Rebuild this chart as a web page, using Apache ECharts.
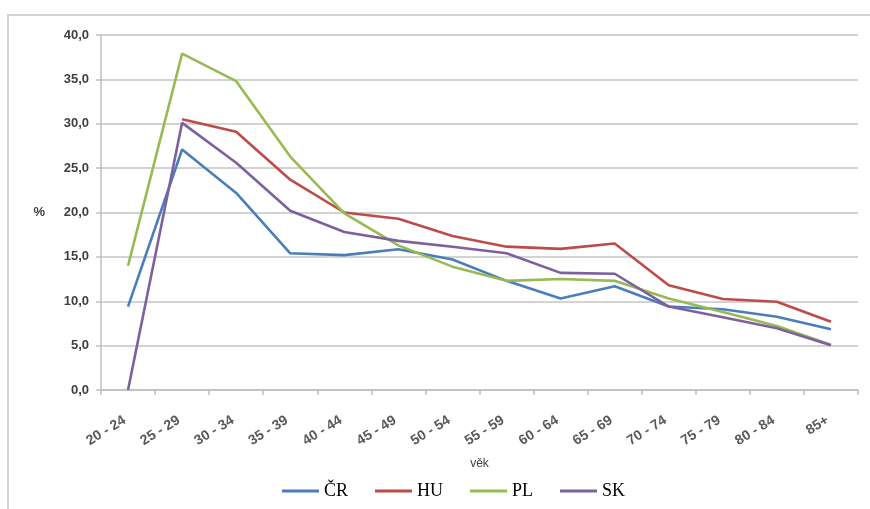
<!DOCTYPE html>
<html>
<head>
<meta charset="utf-8">
<script src="https://cdn.jsdelivr.net/npm/echarts@6/dist/echarts.min.js"></script>
<style>
    html, body { margin: 0; padding: 0; background: #fff; }
    #frame {
        position: absolute; left: 7px; top: 14px; width: 880px; height: 520px;
        border-top: 2px solid #d4d4d4; border-left: 2px solid #d4d4d4;
    }
    #main { position: absolute; left: 0; top: 0; width: 870px; height: 509px; }
</style>
</head>
<body>
<div id="frame"></div>
<div id="main"></div>
<script>
const chart = echarts.init(document.getElementById("main"));

// věkové skupiny
const ages = ["20 - 24", "25 - 29", "30 - 34", "35 - 39", "40 - 44", "45 - 49", "50 - 54",
    "55 - 59", "60 - 64", "65 - 69", "70 - 74", "75 - 79", "80 - 84", "85+"];

const cr = [9.4, 27.1, 22.2, 15.4, 15.2, 15.85, 14.7, 12.3, 10.3, 11.7, 9.4, 9.1, 8.25, 6.85];
const hu = [null, 30.5, 29.1, 23.7, 20.0, 19.3, 17.35, 16.15, 15.9, 16.5, 11.8, 10.25, 9.95, 7.7];
const pl = [14.0, 37.9, 34.8, 26.3, 19.9, 16.3, 13.9, 12.3, 12.5, 12.3, 10.3, 8.8, 7.2, 5.1];
const sk = [0.0, 30.1, 25.6, 20.2, 17.8, 16.8, 16.15, 15.4, 13.2, 13.1, 9.4, 8.2, 6.95, 5.05];

const yTicks = [0, 5, 10, 15, 20, 25, 30, 35, 40];

function line(name, data, color) {
    return {
        name: name,
        type: 'line',
        data: data,
        symbol: 'none',
        lineStyle: { color: color, width: 2.6 },
        itemStyle: { color: color }
    };
}

let option = {
    animation: false,
    grid: { left: 101, right: 12, top: 35, bottom: 119 },
    legend: {
        bottom: 4,
        left: 277,
        itemWidth: 37,
        itemHeight: 3,
        itemGap: 27,
        icon: 'rect',
        textStyle: { fontFamily: 'Liberation Serif', fontSize: 18, color: '#000' },
        data: ['ČR', 'HU', 'PL', 'SK']
    },
    xAxis: {
        type: 'category',
        data: ages,
        boundaryGap: true,
        name: 'věk',
        nameLocation: 'middle',
        nameGap: 68,
        nameTextStyle: { fontFamily: 'Liberation Sans', fontSize: 12, color: '#404040' },
        axisLine: { lineStyle: { color: '#bfbfbf', width: 1.5 } },
        axisTick: { show: true, interval: 0, length: 5, lineStyle: { color: '#bfbfbf', width: 1.5 } },
        axisLabel: {
            interval: 0, rotate: 32, margin: 27,
            padding: [0, 4, 0, 0],
            fontFamily: 'Liberation Sans', fontSize: 14, fontWeight: 'bold', color: '#595959'
        }
    },
    yAxis: {
        type: 'value',
        min: yTicks[0],
        max: yTicks[yTicks.length - 1],
        interval: 5,
        name: '%',
        nameLocation: 'middle',
        nameRotate: 0,
        nameGap: 56,
        nameTextStyle: { fontFamily: 'Liberation Sans', fontSize: 13, fontWeight: 'bold', color: '#404040' },
        axisLine: { show: true, lineStyle: { color: '#bfbfbf', width: 1.5 } },
        axisTick: { show: true, length: 5, lineStyle: { color: '#bfbfbf', width: 1.5 } },
        axisLabel: {
            margin: 12,
            fontFamily: 'Liberation Sans', fontSize: 13, fontWeight: 'bold', color: '#404040',
            formatter: v => v.toFixed(1).replace('.', ',')
        },
        splitLine: { lineStyle: { color: '#c4c4c4', width: 1.6 } }
    },
    series: [
        line('ČR', cr, '#4a7ebb'),
        line('HU', hu, '#be4b48'),
        line('PL', pl, '#98b954'),
        line('SK', sk, '#7d60a0')
    ]
};
chart.setOption(option);
</script>
</body>
</html>
